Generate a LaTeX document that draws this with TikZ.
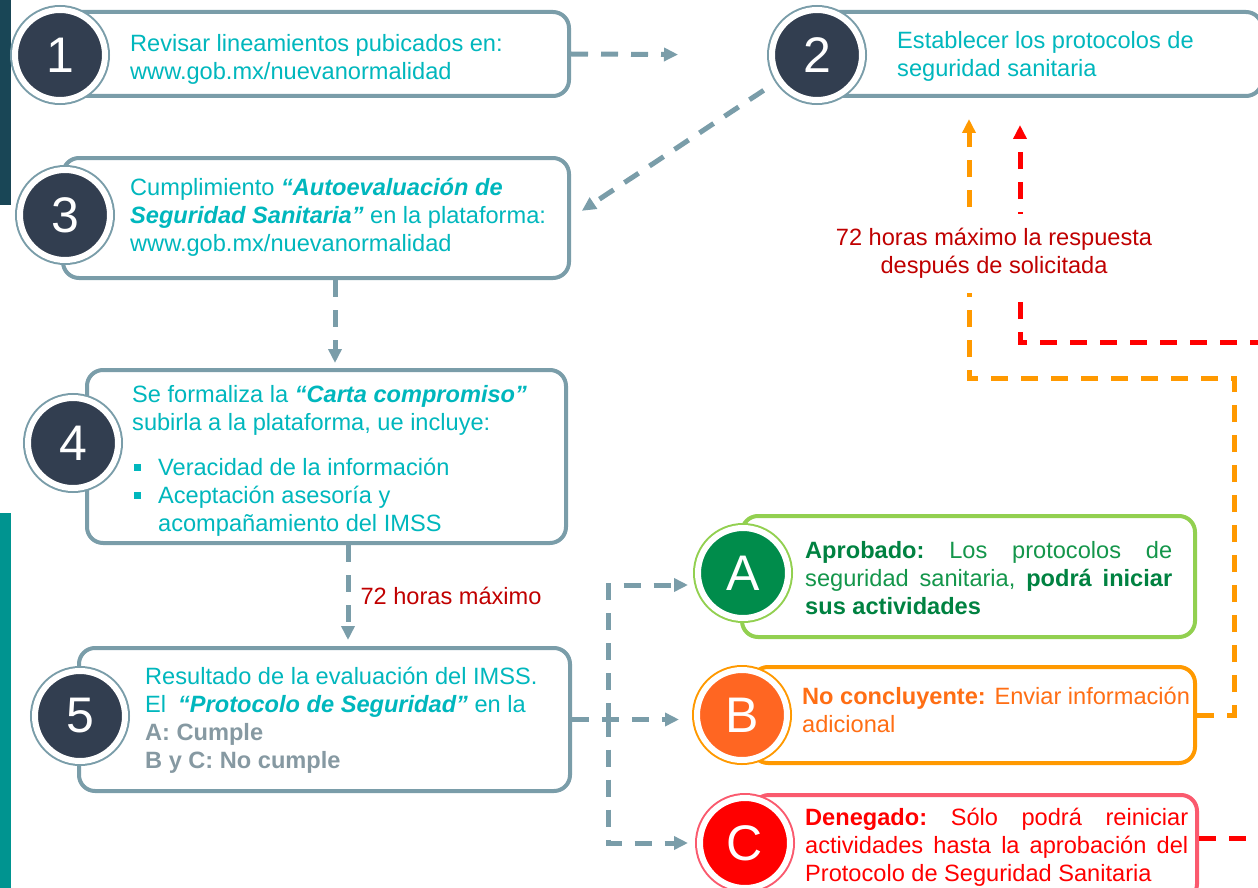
\documentclass[tikz,border=0pt]{standalone}
\usepackage{fontspec}
\setmainfont{Liberation Sans}
\usepackage{tikz}
\usepackage{xcolor}
\usetikzlibrary{arrows.meta}

\definecolor{boxline}{RGB}{122,157,169}
\definecolor{stepnavy}{RGB}{50,62,80}
\definecolor{tealtxt}{RGB}{0,183,189}
\definecolor{graytxt}{RGB}{134,153,162}
\definecolor{darkred}{RGB}{192,0,0}
\definecolor{barnavy}{RGB}{25,70,86}
\definecolor{barteal}{RGB}{0,148,144}
\definecolor{okline}{RGB}{146,208,80}
\definecolor{okfill}{RGB}{0,140,75}
\definecolor{oktxt}{RGB}{20,150,75}
\definecolor{okbold}{RGB}{0,130,65}
\definecolor{warnline}{RGB}{255,153,0}
\definecolor{warnfill}{RGB}{255,102,34}
\definecolor{warntxt}{RGB}{255,110,20}
\definecolor{noline}{RGB}{250,90,110}
\definecolor{nofill}{RGB}{255,0,0}

\newcommand{\bodyfont}{\fontsize{23.6}{28}\selectfont}
\newcommand{\jfont}{\bodyfont\frenchspacing\tolerance=10000 \hbadness=10000 }
\newcommand{\numfont}{\fontsize{50}{50}\selectfont}
\newcommand{\sqbul}{\makebox[26pt][l]{\hspace{2pt}\rule[5pt]{7pt}{7pt}}}

\begin{document}
\begin{tikzpicture}[
  x=1pt, y=-1pt,
  stepbox/.style={rectangle, draw=boxline, line width=4pt, rounded corners=16pt,
                  inner sep=0pt, fill=white},
  numcirc/.style n args={2}{circle, minimum size=90pt, inner sep=0pt,
                  fill=#2, draw=white, line width=6pt,
                  preaction={draw=#1, line width=10pt},
                  text=white, font=\numfont},
  txt/.style={anchor=west, align=left, inner sep=0pt, font=\bodyfont, text=tealtxt},
  jtxt/.style={txt, align=justify, font=\jfont},
  flow/.style={draw=boxline, line width=5pt, dash pattern=on 17pt off 13pt, ->},
  orflow/.style={flow, draw=warnline},
  redflow/.style={flow, draw=nofill},
  >={Triangle[length=14pt, width=13pt]}
]
\useasboundingbox (0,0) rectangle (1258,888);

% side bars
\fill[barnavy] (0,0) rectangle (11,205);
\fill[barteal] (0,513) rectangle (11,888);

% step boxes
\node[stepbox, minimum width=509, minimum height=84]  (b1) at (314.5,54) {};
\node[stepbox, minimum width=445, minimum height=84]  (b2) at (1039.5,54) {};
\node[stepbox, minimum width=506, minimum height=120] (b3) at (316,218) {};
\node[stepbox, minimum width=479, minimum height=173] (b4) at (326.5,456.5) {};
\node[stepbox, minimum width=491, minimum height=143] (b5) at (324.5,719.5) {};

% outcome boxes
\node[stepbox, draw=okline,   minimum width=453, minimum height=121] (bA) at (968.5,576.5) {};
\node[stepbox, draw=warnline, minimum width=443, minimum height=96]  (bB) at (973.5,715) {};
\node[stepbox, draw=noline,   minimum width=444, minimum height=105] (bC) at (975,847.5) {};

% numbers
\node[numcirc={boxline}{stepnavy}] (c1) at (60,55)  {1};
\node[numcirc={boxline}{stepnavy}] (c2) at (817,55) {2};
\node[numcirc={boxline}{stepnavy}] (c3) at (65,215) {3};
\node[numcirc={boxline}{stepnavy}] (c4) at (73,443) {4};
\node[numcirc={boxline}{stepnavy}] (c5) at (80,716) {5};
\node[numcirc={okline}{okfill}]    (cA) at (743,573) {A};
\node[numcirc={warnline}{warnfill}] (cB) at (742,715) {B};
\node[numcirc={noline}{nofill}]    (cC) at (745,843) {C};

% texts
\node[txt] (t1) at (130,59.5) {Revisar lineamientos pubicados en:\\www.gob.mx/nuevanormalidad};
\node[txt] (t2) at (897,56.5) {Establecer los protocolos de\\seguridad sanitaria};
\node[txt] (t3) at (130,217.5) {Cumplimiento \textbf{\textit{“Autoevaluación de}}\\
  \textbf{\textit{Seguridad Sanitaria”}} en la plataforma:\\www.gob.mx/nuevanormalidad};
\node[txt] (t4) at (132,461) {Se formaliza la \textbf{\textit{“Carta compromiso”}}\\
  subirla a la plataforma, ue incluye:\\[17pt]
  \sqbul Veracidad de la información\\
  \sqbul Aceptación asesoría y\\
  \hspace*{26pt}acompañamiento del IMSS};
\node[txt] (t5) at (145,720.5) {Resultado de la evaluación del IMSS.\\
  El\hspace{12pt}\textbf{\textit{“Protocolo de Seguridad”}} en la\\
  \textcolor{graytxt}{\textbf{A: Cumple}}\\
  \textcolor{graytxt}{\textbf{B y C: No cumple}}};
\node[jtxt, text width=367, text=oktxt] (tA) at (805,578)
  {\textbf{\color{okbold}Aprobado:} Los protocolos de\linebreak
   seguridad sanitaria, \textbf{\color{okbold}podrá iniciar}\linebreak
   \textbf{\color{okbold}sus actividades}};
\node[txt, text=warntxt] (tB) at (802,710)
  {\textbf{No concluyente:} Enviar información\\adicional};
\node[jtxt, text width=383, text=nofill] (tC) at (805,847.5)
  {\textbf{Denegado:} Sólo podrá reiniciar\linebreak
   actividades hasta la aprobación del\linebreak
   Protocolo de Seguridad Sanitaria};

% main flow
\draw[flow, shorten >=91pt] (b1.east) -- (c2.west);
\draw[flow, shorten <=16pt, shorten >=13pt] (c2) -- (b3.east);
\draw[flow, shorten >=5pt] ([xshift=19pt]b3.south) -- ([xshift=8.5pt]b4.north);
\draw[flow, shorten >=6pt] ([xshift=21.5pt]b4.south) -- ([xshift=23.5pt]b5.north)
  node[midway, anchor=west, xshift=10pt, inner sep=0pt, font=\bodyfont, text=darkred] (t72) {72 horas máximo};

% result fan-out
\coordinate (fork) at ([xshift=36pt]b5.east);
\draw[flow, shorten >=15pt] (b5.east) -- (b5.east -| cB.west);
\draw[flow, shorten >=7pt] (fork) |- ([yshift=-12pt]cA.west);
\draw[flow, shorten >=9pt] (fork) |- (cC.west);

% back to step 2
\coordinate (orturn) at (1234,378);
\coordinate (redturn) at (1300,342);
\draw[orflow, shorten >=21pt] (bB.east) -| (orturn) -| ([xshift=-70.5pt]b2.south);
\draw[redflow, shorten >=27pt] ([yshift=9.5pt]bC.east) -| (redturn) -| ([xshift=-19.5pt]b2.south);

\node[font=\bodyfont, text=darkred, align=center, fill=white, inner sep=14pt] (wait)
  at (994,253.5) {72 horas máximo la respuesta\\después de solicitada};

\end{tikzpicture}
\end{document}
